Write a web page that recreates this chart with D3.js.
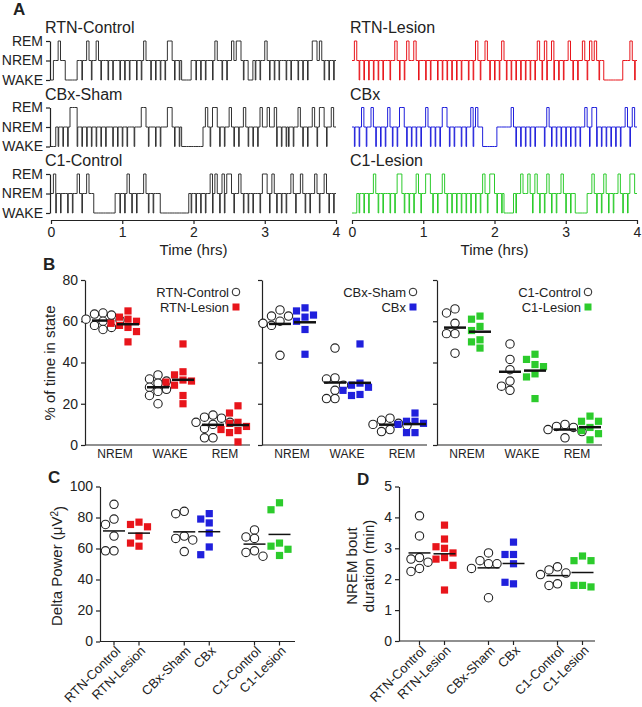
<!DOCTYPE html>
<meta charset="utf-8">
<style>
body{ margin:0; background:#fff; }
text{ font-family:"Liberation Sans", Arial, sans-serif; fill:#222; }
</style>
<body>
<div id="fig"></div>
<script src="https://d3js.org/d3.v7.min.js"></script>
<script>
// hypnograms, one char per 2 min bin (N = NREM, W = WAKE, R = REM, w = brief wake inside NREM), 20 min per chunk
var hypRtnCtl  = ["WNNRNNWWWW","WNNwNRNwNR","NwNNwNwNNw","NwNwNNwNwR","NNwNwNwNwR","RNwNwWWWWN","NwNwNwNNwR","NNwNwNRNRR","NwNWWNwNwN","RNwNwNwNNw","NwNNwNwNwN","RRNRNwNwNw"];
var hypRtnLes  = ["NRNwNwNwNw","NwNwNNwNRN","wNwRNNRNwN","NwNwNNwNwN","wNwNwNwNNw","NwRNwNRNwN","wNwRNwNwNw","NwNwNwNwRN","wRwNRwNwNw","NRNwNwNRNw","RNRNwNWWWW","WWWWNNNRNw"];
var hypCbxSham = ["WWNwNwNwRR","RwNwNwNwNw","NwNwNNwNwN","wNwNNwNNRR","NwNNwNwNNR","RNwNwWWWWW","WWWWNRNwRR","NwNwNRNwNw","NRNwNwNwRN","NRNNRwNwNw","wNwNRNwNwN","RNwRRNwNRN"];
var hypCbx     = ["NwNwRNwNRN","wNwNwRNwNw","RRNwNwNwNw","NRNwNwNwRR","NwNwNNwNwN","RwRNNWWWWW","WNNNNNNRNw","NwNwNwNwNN","NwRNwNwNwN","wNwNwNwNRN","wRRwNwNwNw","NwNwNRNwRN"];
var hypC1Ctl   = ["NRwNwNNwNw","NRNwNRNNWW","WWWWWWWNNw","NwRNwNwNNR","NwNwNNWWWW","WWWWWWWWNw","NwNwNwNRwR","NwRwRRNwNR","NwNwNwNNwR","RNwRNwNwNw","NRNwNRNwNw","NRNwNRNwNw"];
var hypC1Les   = ["WWNwNwNwNR","NwNwNNwNwR","RNwNwNwRNw","NRRNwNwNRN","wNwNwNwNwN","wNwNwRNwRR","NwNwWWWWNw","NRNNRNwRNw","NwRNwNwNRN","wNwNWWWWWN","NRNwNwRNwN","wNRNwNwRRN"];

var states = ["REM","NREM","WAKE"];
var hourTicks = [0,1,2,3,4];

// B: % of time in state  [NREM, WAKE, REM]
var stateCats = ["NREM","WAKE","REM"];
var pctRtnCtl  = [[64,63.5,63,61,60.5,60,58,56,57],[34,32,31,30,28,27,26,24,20],[14.5,13.5,13,11,11,10,8,3.5,3.5]];
var pctRtnLes  = [[65,62,61,60,59,58,57,55,50],[49,35.5,34,31.5,31,30.5,29,24,20],[19,15.5,11,10.5,9,7.5,7,6,1.5]];
var pctCbxSham = [[65.5,62.5,62.5,60,59,58,43.5],[47,32.5,32,29,26.5,22.5,22.5],[13,12,10.5,10,9.5,7.5,6.5]];
var pctCbx     = [[66.5,65,63,62,60,56,44],[49,30,29,28,26.5,24.5,24],[15.5,11.5,11.5,10.5,10,6,6]];
var pctC1Ctl   = [[66,64,59,54,54,44.5],[49,41.5,36.5,31,28.5,26.5],[10,9,8.5,7.5,6.5,3.5]];
var pctC1Les   = [[62.5,61,57.5,55.5,51,50,47],[44,41.5,39,38,34.5,33,22.5],[14,11.5,11.5,8.5,7,5.5,2.5]];
var pctTicks = [0,20,40,60,80];

// C: delta power (uV^2)
var groups = ["RTN-Control","RTN-Lesion","CBx-Sham","CBx","C1-Control","C1-Lesion"];
var dpRtnCtl  = [88.5,79,75.5,68,58.5,58.5];
var dpRtnLes  = [77,75.5,74,68,63.5,61.5];
var dpCbxSham = [84,82.5,68,66.5,65.5,58];
var dpCbx     = [82.5,79,76.5,70,61,56];
var dpC1Ctl   = [72,67.5,66.5,58.5,57.5,55];
var dpC1Les   = [89.5,85,63.5,61.5,59.5,55.5];
var dpTicks = [0,20,40,60,80,100];

// D: NREM bout duration (min)
var boutRtnCtl  = [4.05,3.4,2.7,2.65,2.55,2.35,2.25];
var boutRtnLes  = [3.75,3.3,3.05,3.0,2.85,2.7,2.65,2.45,1.65];
var boutCbxSham = [2.85,2.6,2.5,2.5,2.35,1.4];
var boutCbx     = [3.2,2.8,2.8,2.5,1.85,1.9];
var boutC1Ctl   = [2.4,2.3,2.2,2.15,1.85,1.8];
var boutC1Les   = [2.75,2.6,2.6,1.8,1.8,1.75];
var boutTicks = [0,1,2,3,4,5];

var red = "#e8151b", blue = "#2020dc", green = "#2ccb2c", dark = "#333";
var groupColor = [null, red, null, blue, null, green];

var svg = d3.select("#fig").append("svg").attr("width", 642).attr("height", 707);

function label(g, x, y, s, size, anchor, weight){
	return g.append("text").attr("x", x).attr("y", y)
		.attr("font-size", size).attr("text-anchor", anchor || "start")
		.attr("font-weight", weight || "normal").text(s);
}

function styleAxis(g, size){
	g.selectAll("path, line").attr("stroke", "#222").attr("stroke-width", 1.2);
	g.selectAll("text").attr("font-size", size).attr("font-family", null).attr("fill", "#222");
}

// ---------- A : hypnograms
var rowTop = [41, 107.5, 174], rowH = 39;
var xL = d3.scaleLinear().domain([0,4]).range([51, 336]);
var xR = d3.scaleLinear().domain([0,4]).range([352, 637]);
var leftRows = [[hypRtnCtl,"RTN-Control"],[hypCbxSham,"CBx-Sham"],[hypC1Ctl,"C1-Control"]];
var rightRows = [[hypRtnLes,"RTN-Lesion",red],[hypCbx,"CBx",blue],[hypC1Les,"C1-Lesion",green]];

label(svg, 13, 15, "A", 17, "start", "bold");

function drawHyp(chunks, x, top, color){
	var s = chunks.join("").split("");
	var pts = [];
	s.forEach(function(c,i){
		var t = i*2/60;
		if(c == "w"){ pts.push([t, "W"]); pts.push([t + 0.5/60, "N"]); }
		else pts.push([t, c]);
	});
	pts.push([4, pts[pts.length-1][1]]);
	var y = d3.scalePoint().domain(["R","N","W"]).range([top, top+rowH]);
	var line = d3.line().x(function(d){ return x(d[0]); }).y(function(d){ return y(d[1]); }).curve(d3.curveStepAfter);
	svg.append("path").datum(pts).attr("d", line)
		.attr("fill","none").attr("stroke", color).attr("stroke-width", 1);
}

leftRows.forEach(function(r,i){
	var top = rowTop[i];
	label(svg, 45, top-8, r[1], 16);
	var sy = d3.scalePoint().domain(states).range([top, top+rowH]);
	var ax = svg.append("g").attr("transform","translate(50,0)")
		.call(d3.axisLeft(sy).tickSize(4).tickSizeOuter(0));
	styleAxis(ax, 14);
	drawHyp(r[0], xL, top, dark);
});
rightRows.forEach(function(r,i){
	var top = rowTop[i];
	label(svg, 350, top-8, r[1], 16);
	drawHyp(r[0], xR, top, r[2]);
});

[xL, xR].forEach(function(x){
	var ax = svg.append("g").attr("transform","translate(0,220)")
		.call(d3.axisBottom(x).tickValues(hourTicks).tickFormat(d3.format("d")).tickSize(4).tickSizeOuter(0));
	styleAxis(ax, 14);
	label(svg, (x.range()[0]+x.range()[1])/2, 255, "Time (hrs)", 15, "middle");
});

// place points side by side when they would overlap
function dodge(vals, y, step){
	var placed = [];
	return vals.map(function(v){
		var py = y(v), offs = [0,-step,step,-2*step,2*step,-3*step,3*step], k;
		for(k = 0; k < offs.length; k++){
			var ok = placed.every(function(p){ return Math.abs(p[0]-offs[k]) >= step-0.5 || Math.abs(p[1]-py) >= step-0.5; });
			if(ok) break;
		}
		var o = offs[Math.min(k, offs.length-1)];
		placed.push([o, py]);
		return {v: v, dx: o};
	});
}

function drawGroup(g, vals, cx, y, color, meanW, meanStroke){
	var pts = dodge(vals, y, 8.5);
	if(color){
		g.selectAll(null).data(pts).enter().append("rect")
			.attr("x", function(d){ return cx + d.dx - 3.6; })
			.attr("y", function(d){ return y(d.v) - 3.6; })
			.attr("width", 7.2).attr("height", 7.2).attr("fill", color);
	} else {
		g.selectAll(null).data(pts).enter().append("circle")
			.attr("cx", function(d){ return cx + d.dx; })
			.attr("cy", function(d){ return y(d.v); })
			.attr("r", 4.2).attr("fill", "#fff").attr("stroke", "#222").attr("stroke-width", 1.1);
	}
	var m = d3.mean(vals);
	g.append("line").attr("x1", cx - meanW/2).attr("x2", cx + meanW/2)
		.attr("y1", y(m)).attr("y2", y(m)).attr("stroke", "#111").attr("stroke-width", meanStroke);
}

// ---------- B : % of time in state
label(svg, 43, 270, "B", 17, "start", "bold");
var yB = d3.scaleLinear().domain([0,80]).range([445, 280]);
var subB = [
	[85, pctRtnCtl, pctRtnLes, red, "RTN-Control", "RTN-Lesion"],
	[262, pctCbxSham, pctCbx, blue, "CBx-Sham", "CBx"],
	[437, pctC1Ctl, pctC1Les, green, "C1-Control", "C1-Lesion"]
];
subB.forEach(function(s, i){
	var x0 = s[0];
	var g = svg.append("g");
	var xc = d3.scalePoint().domain(stateCats).range([x0+30, x0+140]);
	var ax = g.append("g").attr("transform","translate("+x0+",0)")
		.call(d3.axisLeft(yB).tickValues(pctTicks).tickSize(4).tickSizeOuter(0).tickFormat(i == 0 ? d3.format("d") : ""));
	styleAxis(ax, 14);
	g.append("line").attr("x1", x0).attr("x2", x0+165).attr("y1", 445).attr("y2", 445)
		.attr("stroke","#222").attr("stroke-width", 1.2);
	stateCats.forEach(function(c, j){
		label(g, xc(c), 458, c, 12, "middle");
		drawGroup(g, s[1][j], xc(c)-12, yB, null, 22, 2.5);
		drawGroup(g, s[2][j], xc(c)+13, yB, s[3], 22, 2.5);
	});
	var lx = x0 + 151;
	label(g, lx-7, 297, s[4], 13, "end");
	g.append("circle").attr("cx", lx).attr("cy", 292).attr("r", 3.8)
		.attr("fill","#fff").attr("stroke","#222").attr("stroke-width",1);
	label(g, lx-7, 312, s[5], 13, "end");
	g.append("rect").attr("x", lx-3.5).attr("y", 303.5).attr("width", 7).attr("height", 7).attr("fill", s[3]);
});
svg.append("text").attr("transform","translate(50,363) rotate(-90)")
	.attr("text-anchor","middle").attr("dy","0.35em").attr("font-size", 15).text("% of time in state");

// ---------- C and D : dot plots per group
function dotPanel(x0, x1, pairC, y, ticks, sets, meanStroke){
	var g = svg.append("g");
	var xp = d3.scalePoint().domain(["RTN","CBx","C1"]).range(pairC);
	var ax = g.append("g").attr("transform","translate("+x0+",0)")
		.call(d3.axisLeft(y).tickValues(ticks).tickSize(4).tickSizeOuter(0).tickFormat(d3.format("d")));
	styleAxis(ax, 14);
	var base = y.range()[0];
	g.append("line").attr("x1", x0).attr("x2", x1).attr("y1", base).attr("y2", base)
		.attr("stroke","#222").attr("stroke-width", 1.2);
	groups.forEach(function(name, i){
		var cx = xp(xp.domain()[Math.floor(i/2)]) + (i % 2 ? 12.5 : -12.5);
		g.append("line").attr("x1", cx).attr("x2", cx).attr("y1", base).attr("y2", base+4)
			.attr("stroke","#222").attr("stroke-width", 1.2);
		g.append("text").attr("transform","translate("+(cx+4)+","+(base+7)+") rotate(-45)")
			.attr("text-anchor","end").attr("dy","0.35em").attr("font-size", 13).text(name);
		drawGroup(g, sets[i], cx, y, groupColor[i], 22, meanStroke);
	});
	return g;
}

label(svg, 48, 483, "C", 17, "start", "bold");
var yC = d3.scaleLinear().domain([0,100]).range([641.5, 486.5]);
dotPanel(100, 295, [126.5, 267], yC, dpTicks, [dpRtnCtl, dpRtnLes, dpCbxSham, dpCbx, dpC1Ctl, dpC1Les], 1.5);
var cl = svg.append("text").attr("transform","translate(57,566) rotate(-90)")
	.attr("text-anchor","middle").attr("dy","0.35em").attr("font-size", 15);
cl.append("tspan").text("Delta Power (\u03bcV");
cl.append("tspan").attr("dy","-0.45em").attr("font-size", 10).text("2");
cl.append("tspan").attr("dy","0.45em").text(")");

label(svg, 357, 485, "D", 17, "start", "bold");
var yD = d3.scaleLinear().domain([0,5]).range([641, 486.5]);
dotPanel(399, 595, [432, 570], yD, boutTicks, [boutRtnCtl, boutRtnLes, boutCbxSham, boutCbx, boutC1Ctl, boutC1Les], 1.5);
svg.append("text").attr("transform","translate(352,566) rotate(-90)")
	.attr("text-anchor","middle").attr("dy","0.35em").attr("font-size", 15).text("NREM bout");
svg.append("text").attr("transform","translate(369,566) rotate(-90)")
	.attr("text-anchor","middle").attr("dy","0.35em").attr("font-size", 15).text("duration (min)");
</script>
</body>
